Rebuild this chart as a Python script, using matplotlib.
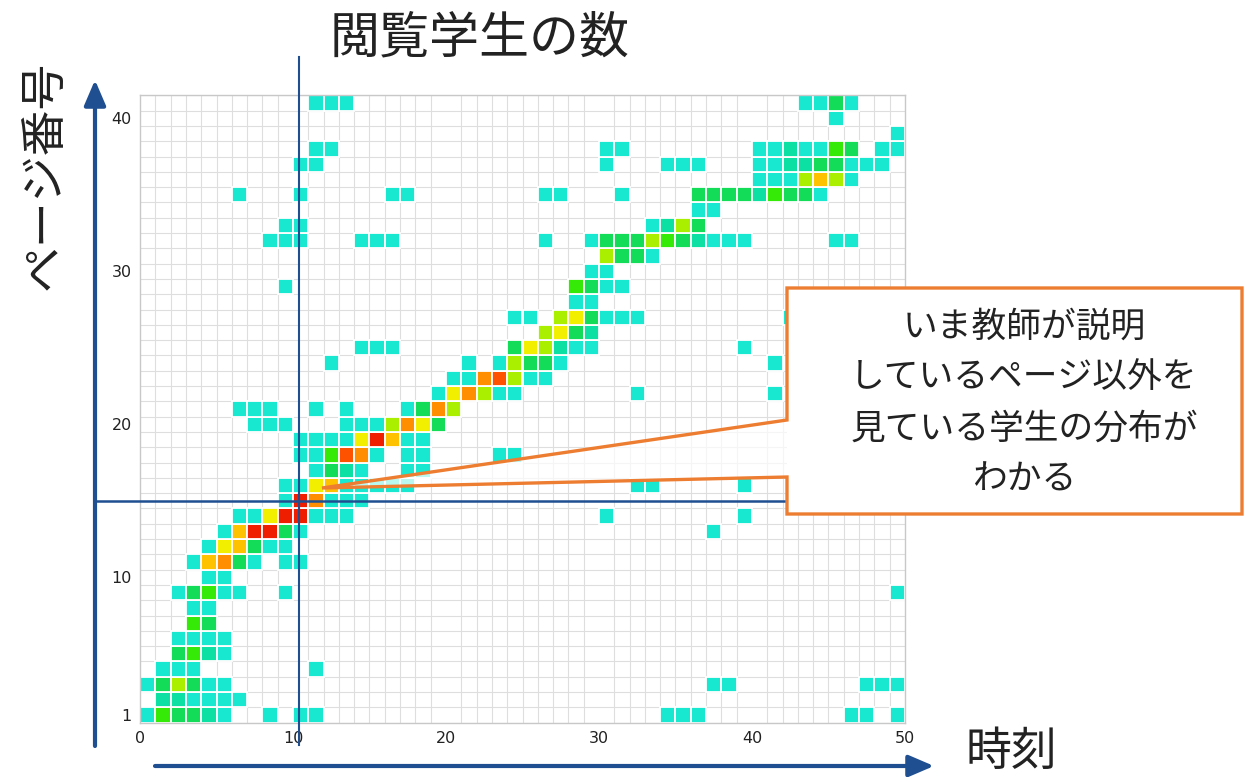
import numpy as np
import matplotlib
matplotlib.use('Agg')
import matplotlib.pyplot as plt
from matplotlib.colors import ListedColormap, BoundaryNorm
from matplotlib.patches import Polygon, Rectangle, FancyArrowPatch

# ---------------- data ----------------
title = "閲覧学生の数"
y_title = "ページ番号"
x_title = "時刻"
callout_lines = ["いま教師が説明", "しているページ以外を", "見ている学生の分布が", "わかる"]

n_times = 50
n_pages = 41
x_ticks = [0, 10, 20, 30, 40, 50]
y_ticks = [1, 10, 20, 30, 40]
current_time = 10      # column highlighted by vertical line
current_page = 15      # page highlighted by horizontal line

# (page, time, number of students)
cell_page = []
cell_time = []
cell_count = []

rows = {
    1: [(0,1),(1,4),(2,3),(3,3),(4,2),(5,1),(8,1),(10,1),(11,1),(34,1),(35,1),(36,1),(46,1),(47,1),(49,1)],
    2: [(1,2),(2,2),(3,1),(4,1),(5,1),(6,1)],
    3: [(0,1),(1,3),(2,5),(3,3),(4,1),(5,1),(37,1),(38,1),(47,1),(48,1),(49,1)],
    4: [(1,1),(2,1),(3,1),(11,1)],
    5: [(2,3),(3,4),(4,2),(5,1)],
    6: [(2,1),(3,1),(4,1),(5,1)],
    7: [(3,4),(4,3)],
    8: [(3,1),(4,1)],
    9: [(2,1),(3,3),(4,4),(5,1),(6,1),(9,1),(49,1)],
    10: [(4,1),(5,1)],
    11: [(3,1),(4,7),(5,8),(6,3),(7,1),(9,1),(10,1)],
    12: [(4,1),(5,6),(6,7),(7,3),(8,1),(9,1)],
    13: [(5,1),(6,7),(7,10),(8,10),(9,3),(10,1),(37,1)],
    14: [(6,1),(7,1),(8,6),(9,10),(10,10),(11,1),(12,1),(13,1),(30,1),(39,1)],
    15: [(9,1),(10,10),(11,8),(12,1),(13,1),(14,1)],
    16: [(9,1),(10,1),(11,6),(12,7),(13,1),(14,1),(15,1),(16,1),(17,1),(32,1),(33,1),(39,1)],
    17: [(11,1),(12,3),(13,2),(14,1),(17,1),(18,1)],
    18: [(10,1),(11,1),(12,4),(13,9),(14,8),(15,1),(17,1),(18,1),(23,1),(24,1)],
    19: [(10,1),(11,1),(12,1),(13,1),(14,6),(15,10),(16,7),(17,1),(18,1)],
    20: [(7,1),(8,1),(9,1),(13,1),(14,1),(15,1),(16,5),(17,8),(18,6),(19,3)],
    21: [(6,1),(7,1),(8,1),(11,1),(13,1),(17,1),(18,3),(19,8),(20,5)],
    22: [(19,1),(20,6),(21,8),(22,5),(23,1),(24,1),(32,1),(41,1)],
    23: [(20,1),(21,1),(22,8),(23,9),(24,5),(25,1),(26,1)],
    24: [(12,1),(21,1),(23,1),(24,5),(25,3),(26,3),(27,1),(41,1)],
    25: [(14,1),(15,1),(16,1),(24,3),(25,6),(26,5),(27,2),(28,1),(29,1),(39,1)],
    26: [(26,5),(27,6),(28,3),(29,2)],
    27: [(24,1),(25,1),(27,5),(28,6),(29,3),(30,1),(31,1),(32,1),(42,1)],
    28: [(28,1),(29,1)],
    29: [(9,1),(28,4),(29,3),(30,1),(31,1)],
    30: [(29,1),(30,1)],
    31: [(30,5),(31,3),(32,3),(33,1)],
    32: [(8,1),(9,1),(10,1),(14,1),(15,1),(16,1),(26,1),(29,1),(30,3),(31,3),(32,3),(33,5),(34,4),
         (35,3),(36,2),(37,1),(38,1),(39,1),(45,1),(46,1)],
    33: [(9,1),(10,1),(33,1),(34,2),(35,5),(36,3)],
    34: [(36,1),(37,1)],
    35: [(6,1),(10,1),(16,1),(17,1),(26,1),(27,1),(31,1),(36,3),(37,3),(38,3),(39,3),(40,2),(41,4),
         (42,3),(43,3),(44,1)],
    36: [(40,1),(41,1),(42,1),(43,5),(44,7),(45,5),(46,1)],
    37: [(10,1),(11,1),(30,1),(34,1),(35,1),(36,1),(40,1),(41,1),(42,2),(43,2),(44,3),(45,3),(46,1),
         (47,1),(48,1)],
    38: [(11,1),(12,1),(30,1),(31,1),(40,1),(41,1),(42,2),(43,1),(44,1),(45,4),(46,3),(48,1),(49,1)],
    39: [(49,1)],
    40: [(45,1)],
    41: [(11,1),(12,1),(13,1),(43,1),(44,1),(45,3),(46,1)],
}
for p, lst in rows.items():
    for t, c in lst:
        cell_page.append(p)
        cell_time.append(t)
        cell_count.append(c)

level_colors = ['#18e8d0', '#0ce0a2', '#12dc58', '#34ea06', '#aaee00',
                '#f2f000', '#ffc200', '#ff8e00', '#ff5200', '#f01e00']

# ---------------- figure ----------------
W, H = 1245, 777
fig = plt.figure(figsize=(W / 100, H / 100), dpi=100)
ax = fig.add_axes([140 / W, 1 - 722.6 / H, 765 / W, 627.3 / H])

cmap = ListedColormap(level_colors)
norm = BoundaryNorm(np.arange(0.5, len(level_colors) + 1), cmap.N)

bottoms = np.array(cell_page) - 0.5
ax.bar(cell_time, 1.0, bottom=bottoms, width=1.0, align='edge',
       color=cmap(norm(np.array(cell_count))), edgecolor='white', linewidth=1.3, zorder=2)

ax.set_xlim(0, n_times)
ax.set_ylim(0.5, n_pages + 0.5)
ax.set_xticks(x_ticks)
ax.set_yticks(y_ticks)
ax.set_xticks(np.arange(0, n_times + 1), minor=True)
ax.set_yticks(np.arange(0.5, n_pages + 1), minor=True)
ax.grid(which='minor', color='#dedede', linewidth=0.8)
ax.grid(which='major', visible=False)
ax.set_axisbelow(True)
ax.tick_params(which='both', length=0)
ax.tick_params(axis='x', labelsize=11.5, pad=6, labelcolor='#222222')
ax.tick_params(axis='y', labelsize=11.5, pad=6, labelcolor='#222222')
for s in ax.spines.values():
    s.set_color('#c8c8c8')
    s.set_linewidth(1.0)

line_color = '#1f4f91'
ax.axvline(current_time + 0.4, ymin=-0.036, ymax=1.061, color=line_color,
           linewidth=1.5, clip_on=False, zorder=4)
ax.axhline(current_page, xmin=-0.059, xmax=1.0, color=line_color,
           linewidth=1.8, clip_on=False, zorder=4)

# ---------------- overlay (annotations) ----------------
ov = fig.add_axes([0, 0, 1, 1], zorder=5)
ov.set_xlim(0, W)
ov.set_ylim(H, 0)
ov.axis('off')
ov.patch.set_alpha(0)

jp = 'Noto Sans CJK JP'
arrow_color = '#1f4f91'
ov.add_patch(FancyArrowPatch((95, 746), (95, 80), arrowstyle='-|>,head_length=1.4,head_width=0.6',
                             mutation_scale=11, color=arrow_color, linewidth=3.0, shrinkA=0, shrinkB=0))
ov.add_patch(FancyArrowPatch((155, 766), (934, 766), arrowstyle='-|>,head_length=1.4,head_width=0.6',
                             mutation_scale=11, color=arrow_color, linewidth=3.0, shrinkA=0, shrinkB=0))

ov.text(480, 38, title, fontsize=36, family=jp, ha='center', va='center', color='#222222')
ov.text(45, 175, y_title, fontsize=33, family=jp, ha='center', va='center', rotation=90, color='#222222')
ov.text(1011, 752, x_title, fontsize=33, family=jp, ha='center', va='center', color='#222222')

# callout
bx0, bx1, by0, by1 = 787, 1242, 288, 514
tip = (322, 488)
orange = '#ed7d31'
ov.add_patch(Polygon([(bx0, 420), tip, (bx0, 477)], closed=True, facecolor='white',
                     alpha=0.7, edgecolor='none'))
ov.add_patch(Rectangle((bx0, by0), bx1 - bx0, by1 - by0, facecolor='white', edgecolor='none'))
ov.add_patch(Polygon([(bx0, by0), (bx1, by0), (bx1, by1), (bx0, by1), (bx0, 477), tip, (bx0, 420)],
                     closed=True, fill=False, edgecolor=orange, linewidth=2.4, joinstyle='miter'))
for i, line in enumerate(callout_lines):
    ov.text(1024, 327 + i * 51, line, fontsize=25, family=jp, ha='center', va='center', color='#222222')

fig.savefig('out.png', dpi=100)
